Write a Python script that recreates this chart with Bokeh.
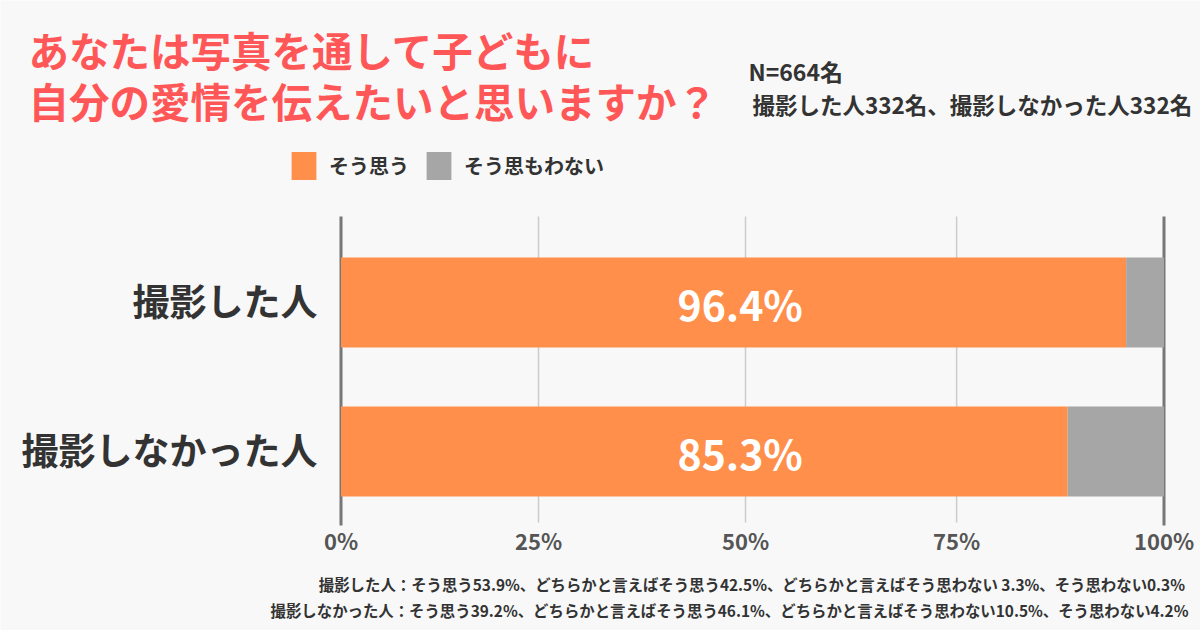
from bokeh.plotting import figure
from bokeh.models import Range1d, Label, Legend, LegendItem
from bokeh.core.properties import value
from bokeh.embed import file_html
from bokeh.resources import INLINE

# ---- data ----
groups = ["撮影した人", "撮影しなかった人"]
agree = [95.4, 88.3]          # bar length (そう思う)
agree_labels = ["96.4%", "85.3%"]
tick_vals = [0, 24.0, 49.15, 74.8, 100]
tick_text = ["0%", "25%", "50%", "75%", "100%"]
series_names = ["そう思う", "そう思もわない"]
title_lines = ["あなたは写真を通して子どもに", "自分の愛情を伝えたいと思いますか？"]
n_lines = ["N=664名", "撮影した人332名、撮影しなかった人332名"]
notes = [
    "撮影した人：そう思う53.9%、どちらかと言えばそう思う42.5%、どちらかと言えばそう思わない  3.3%、そう思わない0.3%",
    "撮影しなかった人：そう思う39.2%、どちらかと言えばそう思う46.1%、どちらかと言えばそう思わない10.5%、そう思わない4.2%",
]

ORANGE = "#FF8F4B"
GREY = "#A6A6A6"
BG = "#F8F8F8"
DARK = "#333333"
RED = "#FF5757"
FONT = "Noto Sans CJK JP"

W, H = 1200, 630
# scales: the frame covers the whole canvas; 0% sits at 340.5px, 100% at 1163.5px,
# category rows are 149px apart with the first centred at 302px
X0, X1 = 340.5, 1163.5
PXU = (X1 - X0) / 100.0
ROW_PX, ROW1_Y = 149.0, 302.0
x_start = -X0 / PXU
x_end = 100 + (W - X1) / PXU
y_top = 1 - ROW1_Y / ROW_PX
y_bot = 1 + (H - ROW1_Y) / ROW_PX

p = figure(width=W, height=H, output_backend="svg", toolbar_location=None,
           x_range=Range1d(x_start, x_end), y_range=Range1d(y_bot, y_top),
           x_axis_type=None, y_axis_type=None,
           min_border=0, min_border_left=0, min_border_right=0,
           min_border_top=0, min_border_bottom=0,
           background_fill_color=BG, border_fill_color=BG, outline_line_color=None)
p.grid.visible = False

ys = list(range(1, len(groups) + 1))
AX_TOP, AX_BOT = 0.4228, 2.4966   # vertical extent of the value axis lines
BAR_H = 0.604

# grid lines (25/50/75) and the 0/100 frame lines
p.segment(x0=tick_vals[1:-1], x1=tick_vals[1:-1], y0=AX_TOP, y1=AX_BOT - 0.02,
          line_color="#CCCCCC", line_width=1.5)
p.segment(x0=[tick_vals[0], tick_vals[-1]], x1=[tick_vals[0], tick_vals[-1]],
          y0=AX_TOP, y1=AX_BOT, line_color="#777777", line_width=3)

r1 = p.hbar(y=ys, left=0, right=agree, height=BAR_H, fill_color=ORANGE, line_color=None)
r2 = p.hbar(y=ys, left=agree, right=[100] * len(agree), height=BAR_H,
            fill_color=GREY, line_color=None)

# value labels in the bars
p.text(x=[48.5] * len(ys), y=ys, text=agree_labels, text_color="white", text_font=value(FONT),
       text_font_size="41px", text_font_style="bold", text_align="center", text_baseline="middle")

# x tick labels
p.text(x=tick_vals, y=[2.597] * len(tick_vals), text=tick_text, text_color="#555555",
       text_font=value(FONT), text_font_size="22px", text_font_style="bold",
       text_align="center", text_baseline="middle")

# category labels
p.text(x=[-2.86] * len(ys), y=[y - 0.015 for y in ys], text=groups, text_color=DARK,
       text_font=value(FONT), text_font_size="37px", text_font_style="bold",
       text_align="right", text_baseline="middle")

# legend
legend = Legend(items=[LegendItem(label=series_names[0], renderers=[r1]),
                       LegendItem(label=series_names[1], renderers=[r2])],
                orientation="horizontal", location=(288, H - 182.5),
                background_fill_alpha=0, border_line_alpha=0, padding=0, margin=0,
                glyph_width=31, glyph_height=35, label_standoff=10, spacing=14,
                label_text_font=FONT, label_text_font_size="20px",
                label_text_font_style="bold", label_text_color=DARK)
p.add_layout(legend, "center")


def lab(x, y, text, size, color, align="left"):
    # x, y in canvas px from the top-left; screen units run up from the bottom
    p.add_layout(Label(x=x, y=H - y, x_units="screen", y_units="screen", text=text,
                       text_font=FONT, text_font_size=size, text_font_style="bold",
                       text_color=color, text_align=align, text_baseline="middle"))


lab(28, 49, title_lines[0], "40.5px", RED)
lab(28, 100, title_lines[1], "40.5px", RED)
lab(748, 70, n_lines[0], "23px", DARK)
lab(752, 103, n_lines[1], "22.5px", DARK)
lab(1188, 583, notes[0], "15.4px", DARK, align="right")
lab(1188, 609, notes[1], "15.4px", DARK, align="right")

open("out.html", "w").write(file_html(p, INLINE))
